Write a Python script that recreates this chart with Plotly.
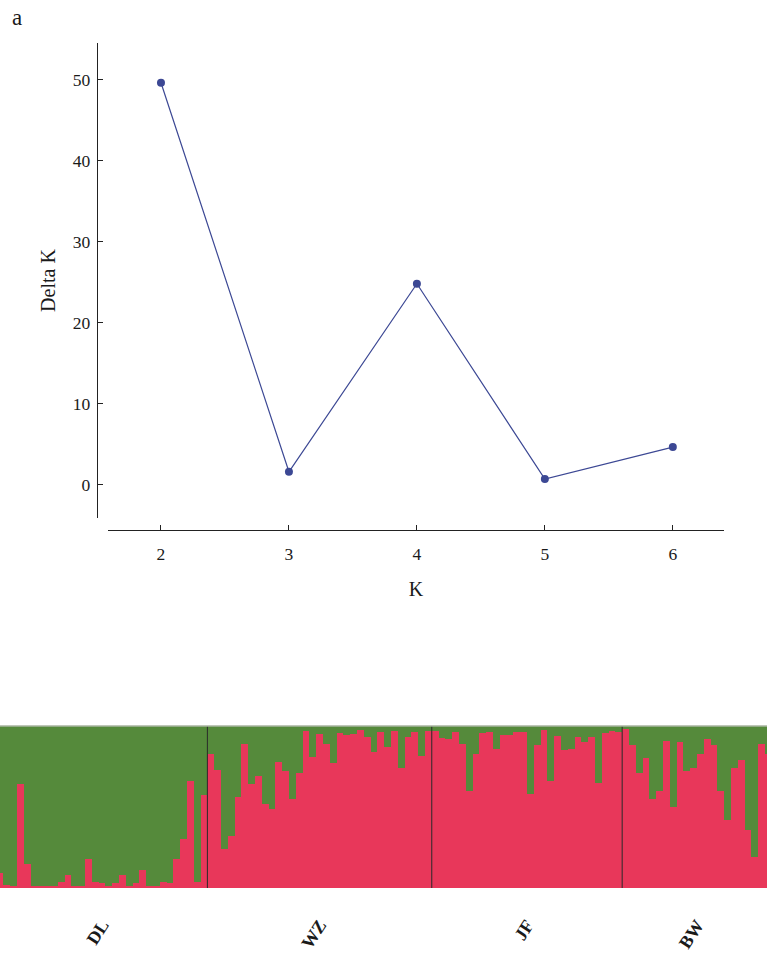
import plotly.graph_objects as go

# ---- Data: Delta K plot ----
k_values = [2, 3, 4, 5, 6]
delta_k = [49.6, 1.6, 24.8, 0.7, 4.65]

# ---- Data: STRUCTURE membership (red cluster proportion) ----
groups = ["DL", "WZ", "JF", "BW"]
dl_red = [0.09, 0.02, 0.01, 0.64, 0.15, 0.015, 0.015, 0.01, 0.01, 0.04, 0.08, 0.015, 0.015, 0.18, 0.04,
          0.03, 0.015, 0.03, 0.08, 0.015, 0.03, 0.11, 0.015, 0.015, 0.04, 0.03, 0.18, 0.30, 0.66, 0.04, 0.575]
wz_red = [0.83, 0.73, 0.24, 0.32, 0.56, 0.89, 0.64, 0.69, 0.52, 0.49, 0.78, 0.72, 0.55, 0.71, 0.97, 0.81,
          0.95, 0.89, 0.77, 0.955, 0.945, 0.95, 0.975, 0.93, 0.84, 0.965, 0.87, 0.97, 0.74, 0.93, 0.965,
          0.815, 0.97]
jf_red = [0.97, 0.925, 0.92, 0.96, 0.89, 0.60, 0.83, 0.955, 0.96, 0.86, 0.945, 0.945, 0.965, 0.96, 0.58,
          0.88, 0.975, 0.66, 0.94, 0.85, 0.86, 0.93, 0.90, 0.93, 0.65, 0.955, 0.97, 0.96]
bw_red = [0.98, 0.88, 0.71, 0.80, 0.55, 0.60, 0.91, 0.50, 0.90, 0.72, 0.74, 0.83, 0.92, 0.88, 0.60, 0.42,
          0.74, 0.79, 0.36, 0.19, 0.89, 0.83]

group_vals = [dl_red, wz_red, jf_red, bw_red]
red = [v for g in group_vals for v in g]
green = [1 - v for v in red]
idx = list(range(len(red)))

# group boundaries / centers
bounds = []
centers = []
start = 0
for g in group_vals:
    centers.append(start + (len(g) - 1) / 2)
    start += len(g)
    bounds.append(start - 0.5)

W, H = 767, 953
SERIF = "Liberation Serif, Times New Roman, serif"
LINE_COL = "#3c4894"
RED = "#E8375A"
GREEN = "#558A3B"

fig = go.Figure()

fig.add_trace(go.Scatter(
    x=k_values, y=delta_k, mode="lines+markers",
    line=dict(color=LINE_COL, width=1.2),
    marker=dict(color=LINE_COL, size=8),
    xaxis="x", yaxis="y", showlegend=False, cliponaxis=False))

fig.add_trace(go.Bar(x=idx, y=red, marker=dict(color=RED, line=dict(width=0)),
                     xaxis="x2", yaxis="y2", showlegend=False))
fig.add_trace(go.Bar(x=idx, y=green, marker=dict(color=GREEN, line=dict(width=0)),
                     xaxis="x2", yaxis="y2", showlegend=False))

shapes = []
for b in bounds[:-1]:
    shapes.append(dict(type="line", xref="x2", yref="y2 domain", x0=b, x1=b, y0=0, y1=1,
                       line=dict(color="#2a2a2a", width=1)))
shapes.append(dict(type="line", xref="x2 domain", yref="y2 domain", x0=0, x1=1, y0=1, y1=1,
                   line=dict(color="#a9b5a0", width=1.5)))

def px_x(p):
    return p / W

def px_y(p):
    return (H - p) / H

fig.update_layout(
    width=W, height=H,
    margin=dict(l=0, r=0, t=0, b=0),
    paper_bgcolor="white", plot_bgcolor="white",
    barmode="stack", bargap=0,
    font=dict(family=SERIF, color="#1a1a1a", size=17),
    shapes=shapes,
    xaxis=dict(
        domain=[px_x(108), px_x(724)], anchor="free", position=px_y(530),
        range=[1.586, 6.40], tickvals=k_values, ticks="inside", ticklen=5,
        tickcolor="#222", showline=True, linecolor="#222", linewidth=1.3,
        showgrid=False, zeroline=False, tickfont=dict(size=17.5, family=SERIF),
        ticklabelstandoff=8,
        title=dict(text="K", font=dict(size=20, family=SERIF), standoff=18),
    ),
    yaxis=dict(
        domain=[px_y(518), px_y(43)], anchor="free", position=px_x(97),
        range=[-4.1, 54.5], tickvals=[0, 10, 20, 30, 40, 50], ticks="inside", ticklen=5,
        tickcolor="#222", showline=True, linecolor="#222", linewidth=1.3,
        showgrid=False, zeroline=False, tickfont=dict(size=17.5, family=SERIF),
        ticklabelstandoff=3,
        title=dict(text="Delta K", font=dict(size=20, family=SERIF), standoff=10),
    ),
    xaxis2=dict(
        domain=[0, 1], anchor="y2", range=[0, 112.8],
        tickvals=centers, ticktext=groups, tickangle=-57, ticks="",
        showline=False, showgrid=False, zeroline=False,
        tickfont=dict(size=18, family=SERIF, weight="bold"),
        ticklabelstandoff=22,
    ),
    yaxis2=dict(
        domain=[px_y(888), px_y(726)], anchor="x2", range=[0, 1],
        showticklabels=False, ticks="", showline=False, showgrid=False, zeroline=False,
    ),
    annotations=[dict(text="a", xref="paper", yref="paper", x=px_x(10), y=px_y(3),
                      xanchor="left", yanchor="top", showarrow=False,
                      font=dict(size=23, family=SERIF))],
)

fig.write_html("out.html")
